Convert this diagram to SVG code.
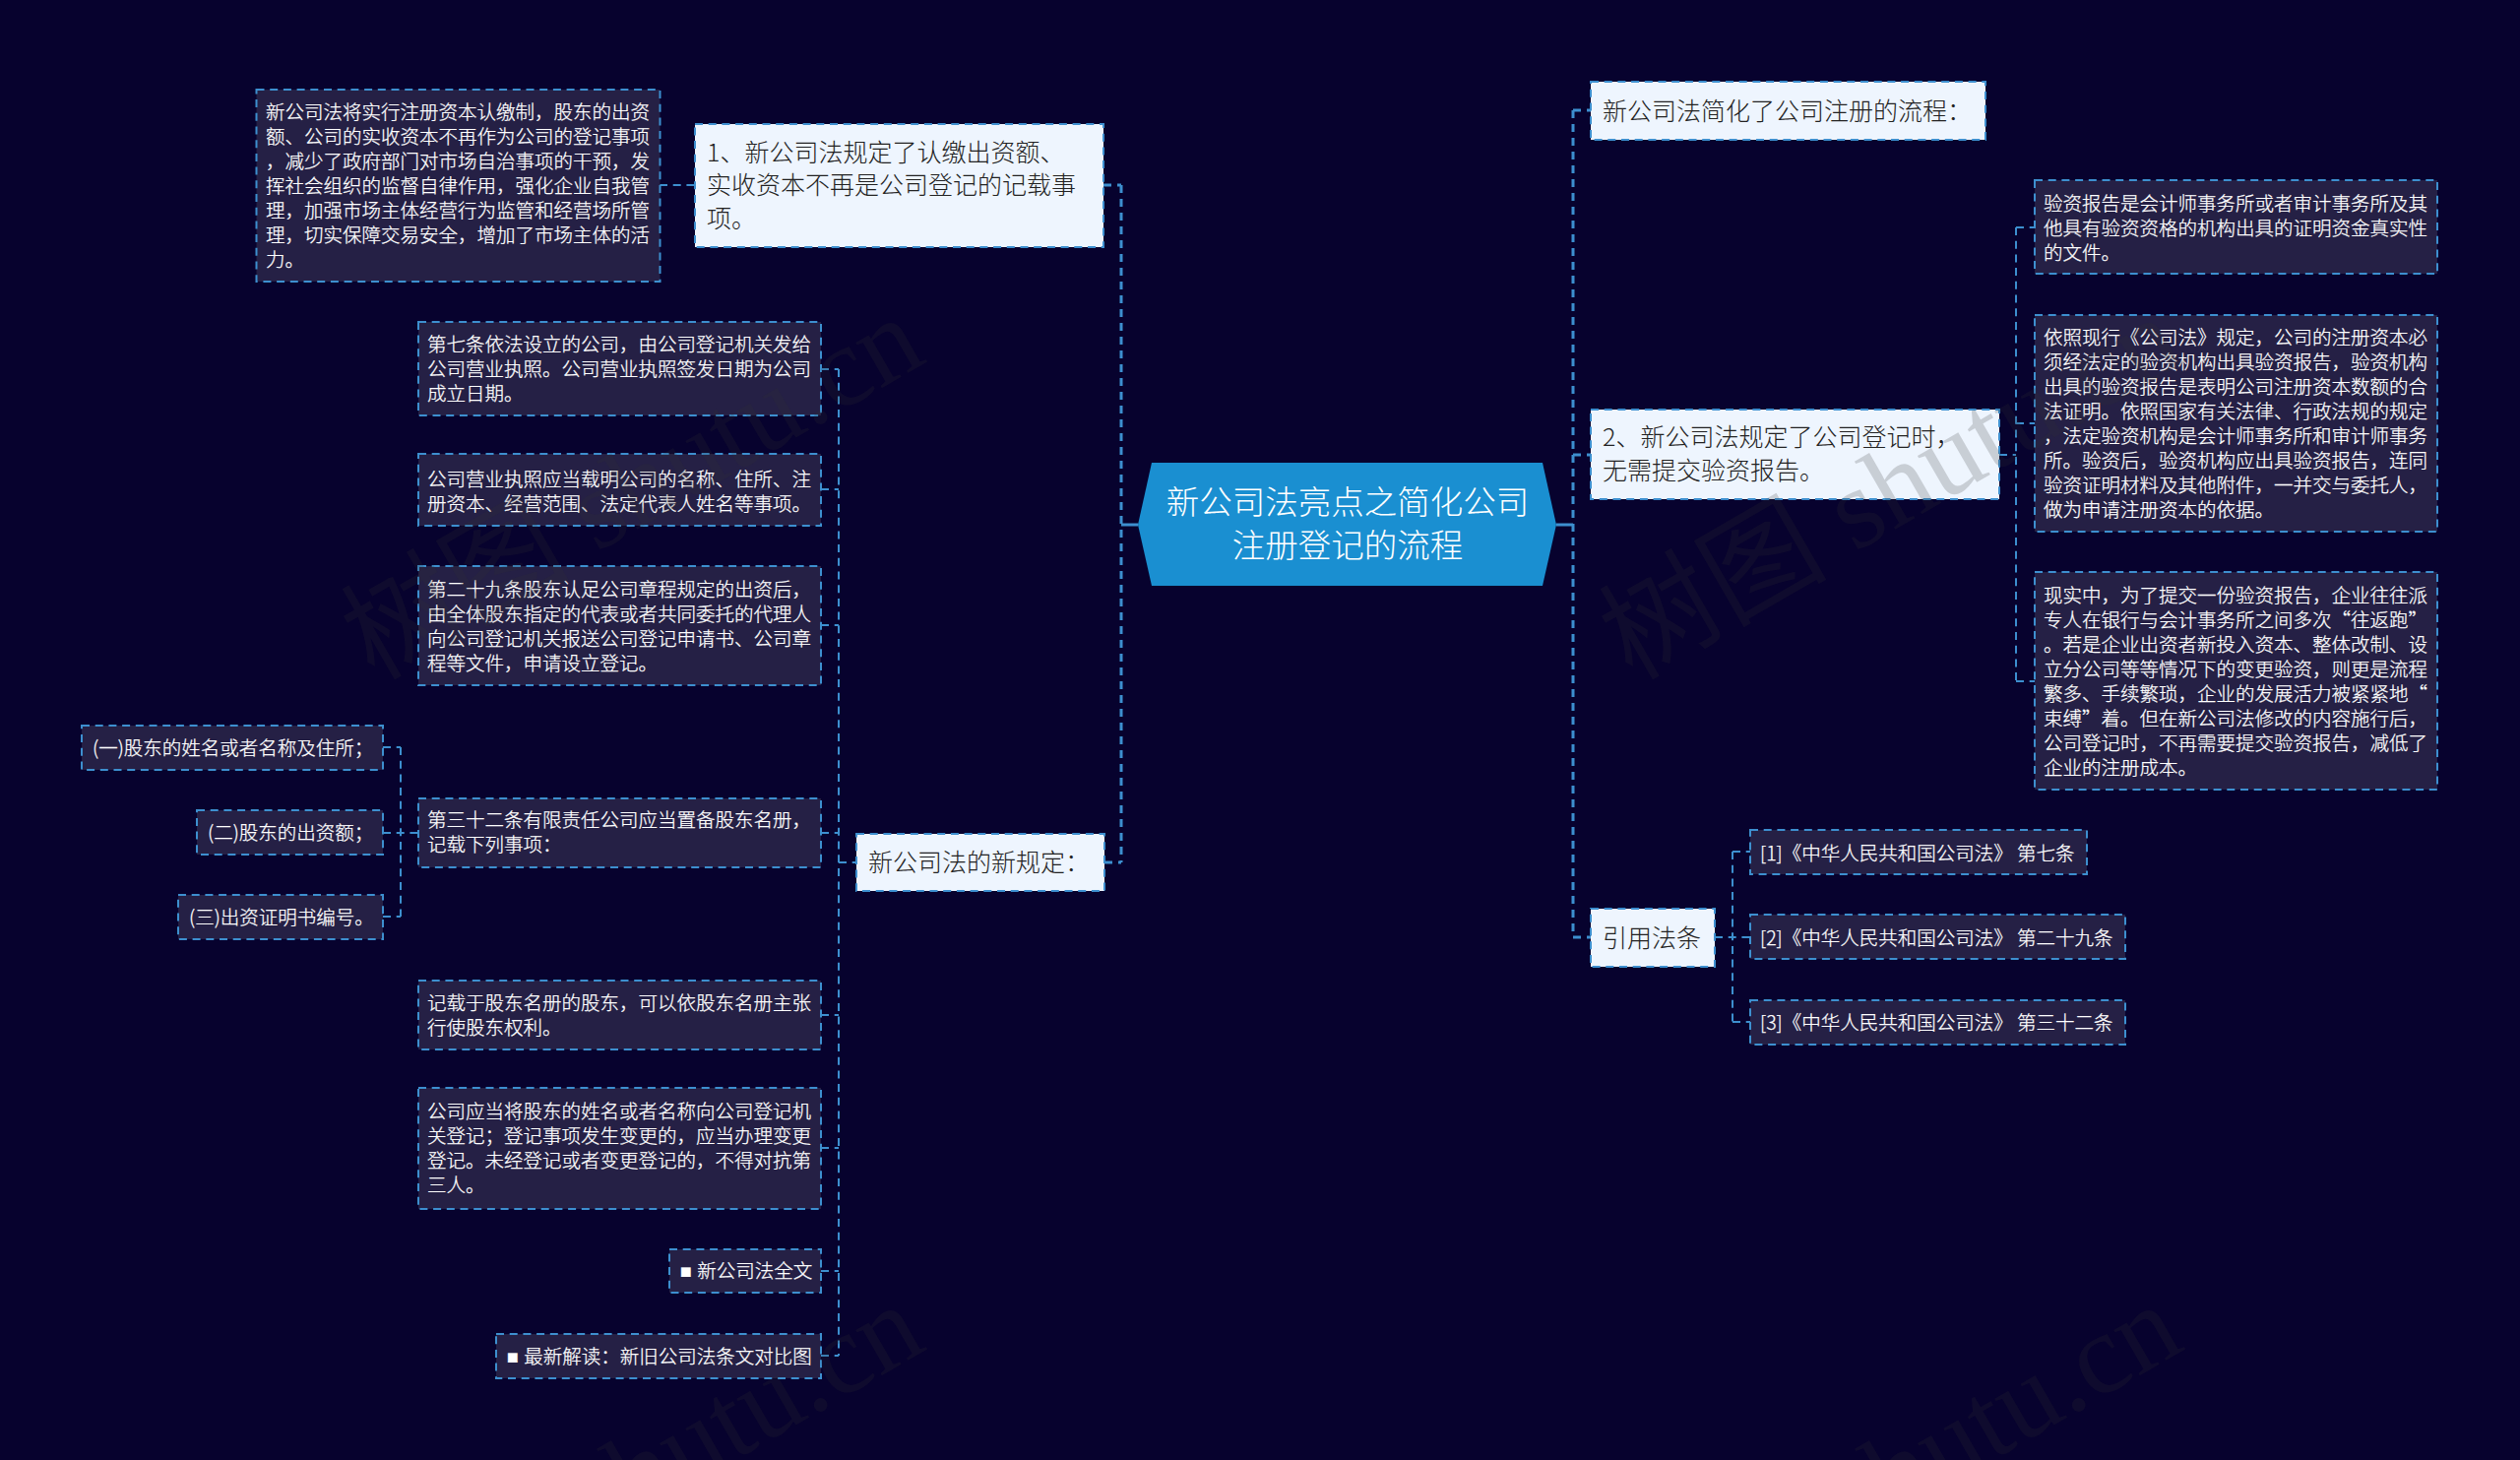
<svg xmlns="http://www.w3.org/2000/svg" width="2560" height="1483" viewBox="0 0 2560 1483">
<style>
text{font-family:"Noto Sans CJK SC","Microsoft YaHei",sans-serif;font-weight:300}
.c{fill:#252045;stroke:#3d8fcf;stroke-width:2;stroke-dasharray:8 5.700}
.l{fill:#eef5fe;stroke:#3d8fcf;stroke-width:2;stroke-dasharray:8 5.700}
.s{font-size:19.500px;fill:#fff;stroke:#fff;stroke-width:.25}
.b{font-size:25px;fill:#222}
.m{fill:none;stroke:#3d8fcf;stroke-width:3;stroke-dasharray:8 6}
.t{fill:none;stroke:#3d8fcf;stroke-width:2;stroke-dasharray:8 5.700}
.q{font-family:"Liberation Sans",sans-serif}
.w{font-family:"Liberation Serif","Noto Sans CJK SC",serif;font-size:116px;fill:#333;fill-opacity:.2;font-weight:400}
</style>
<rect width="2560" height="1483" fill="#07022e"/>
<g id="connectors">
<path class="m" d="M1139 188V876M1121 188H1139M1122 876H1139"/>
<path class="m" d="M1598 112V952M1598 112H1616M1598 462H1616M1598 952H1616"/>
<path d="M1156 533H1139M1581 533H1598" fill="none" stroke="#3d8fcf" stroke-width="3"/>
<path class="t" d="M670 188H706"/>
<path class="t" d="M852 375V1377M834 375H852M834 497H852M834 635H852M834 846H852M834 1031H852M834 1166H852M834 1291H852M834 1377H852M852 876H870"/>
<path class="t" d="M407 759V931M389 759H407M389 846H425M389 931H407"/>
<path class="t" d="M2048 231V692M2048 231H2067M2048 430H2067M2048 692H2067M2031 462H2048"/>
<path class="t" d="M1760 865V1038M1760 865H1778M1742 952H1778M1760 1038H1778"/>
</g>
<g id="n-root"><path d="M1170 470H1567L1581 533L1567 595H1170L1156 533Z" fill="#1a8fd1"/>
<text x="1369" y="522" font-size="33.500" fill="#fff" text-anchor="middle">新公司法亮点之简化公司</text>
<text x="1369" y="566" font-size="33.500" fill="#fff" text-anchor="middle">注册登记的流程</text></g>
<g id="n-l1"><rect class="l" x="706" y="126" width="415" height="125"/>
<text class="b" x="718" y="164">1、新公司法规定了认缴出资额、</text>
<text class="b" x="718" y="197">实收资本不再是公司登记的记载事</text>
<text class="b" x="718" y="231">项。</text></g>
<g id="n-l1a"><rect class="c" x="260.500" y="91" width="410" height="195"/>
<text class="s" x="270" y="121">新公司法将实行注册资本认缴制，股东的出资</text>
<text class="s" x="270" y="146">额、公司的实收资本不再作为公司的登记事项</text>
<text class="s" x="270" y="171">，减少了政府部门对市场自治事项的干预，发</text>
<text class="s" x="270" y="196">挥社会组织的监督自律作用，强化企业自我管</text>
<text class="s" x="270" y="221">理，加强市场主体经营行为监管和经营场所管</text>
<text class="s" x="270" y="246">理，切实保障交易安全，增加了市场主体的活</text>
<text class="s" x="270" y="271">力。</text></g>
<g id="n-l2"><rect class="l" x="870" y="847" width="252" height="58"/>
<text class="b" x="882" y="885">新公司法的新规定：</text></g>
<g id="n-a"><rect class="c" x="425" y="327" width="409" height="95"/>
<text class="s" x="434" y="357">第七条依法设立的公司，由公司登记机关发给</text>
<text class="s" x="434" y="382">公司营业执照。公司营业执照签发日期为公司</text>
<text class="s" x="434" y="407">成立日期。</text></g>
<g id="n-b"><rect class="c" x="425" y="461" width="409" height="73"/>
<text class="s" x="434" y="494">公司营业执照应当载明公司的名称、住所、注</text>
<text class="s" x="434" y="519">册资本、经营范围、法定代表人姓名等事项。</text></g>
<g id="n-c"><rect class="c" x="425" y="575" width="409" height="121"/>
<text class="s" x="434" y="606">第二十九条股东认足公司章程规定的出资后，</text>
<text class="s" x="434" y="631">由全体股东指定的代表或者共同委托的代理人</text>
<text class="s" x="434" y="656">向公司登记机关报送公司登记申请书、公司章</text>
<text class="s" x="434" y="681">程等文件，申请设立登记。</text></g>
<g id="n-d"><rect class="c" x="425" y="811" width="409" height="70"/>
<text class="s" x="434" y="840">第三十二条有限责任公司应当置备股东名册，</text>
<text class="s" x="434" y="865">记载下列事项：</text></g>
<g id="n-d1"><rect class="c" x="83" y="737" width="306" height="45"/>
<text class="s" x="94" y="767">(一)股东的姓名或者名称及住所；</text></g>
<g id="n-d2"><rect class="c" x="200" y="823" width="189" height="45"/>
<text class="s" x="211" y="853">(二)股东的出资额；</text></g>
<g id="n-d3"><rect class="c" x="181" y="909" width="208" height="45"/>
<text class="s" x="192" y="939">(三)出资证明书编号。</text></g>
<g id="n-e"><rect class="c" x="425" y="996" width="409" height="70"/>
<text class="s" x="434" y="1026">记载于股东名册的股东，可以依股东名册主张</text>
<text class="s" x="434" y="1051">行使股东权利。</text></g>
<g id="n-f"><rect class="c" x="425" y="1105" width="409" height="123"/>
<text class="s" x="434" y="1136">公司应当将股东的姓名或者名称向公司登记机</text>
<text class="s" x="434" y="1161">关登记；登记事项发生变更的，应当办理变更</text>
<text class="s" x="434" y="1186">登记。未经登记或者变更登记的，不得对抗第</text>
<text class="s" x="434" y="1211">三人。</text></g>
<g id="n-g"><rect class="c" x="680" y="1269" width="154" height="44"/>
<text class="s" x="691" y="1298"><tspan class="q">■ </tspan>新公司法全文</text></g>
<g id="n-h"><rect class="c" x="504" y="1355" width="330" height="45"/>
<text class="s" x="515" y="1385"><tspan class="q">■ </tspan>最新解读：新旧公司法条文对比图</text></g>
<g id="n-r1"><rect class="l" x="1616" y="83" width="401" height="59"/>
<text class="b" x="1628" y="122">新公司法简化了公司注册的流程：</text></g>
<g id="n-r2"><rect class="l" x="1616" y="416" width="415" height="91"/>
<text class="b" x="1628" y="453">2、新公司法规定了公司登记时，</text>
<text class="b" x="1628" y="487">无需提交验资报告。</text></g>
<g id="n-r2a"><rect class="c" x="2067" y="183" width="409" height="95"/>
<text class="s" x="2076" y="214">验资报告是会计师事务所或者审计事务所及其</text>
<text class="s" x="2076" y="239">他具有验资资格的机构出具的证明资金真实性</text>
<text class="s" x="2076" y="264">的文件。</text></g>
<g id="n-r2b"><rect class="c" x="2067" y="320" width="409" height="220"/>
<text class="s" x="2076" y="350">依照现行《公司法》规定，公司的注册资本必</text>
<text class="s" x="2076" y="375">须经法定的验资机构出具验资报告，验资机构</text>
<text class="s" x="2076" y="400">出具的验资报告是表明公司注册资本数额的合</text>
<text class="s" x="2076" y="425">法证明。依照国家有关法律、行政法规的规定</text>
<text class="s" x="2076" y="450">，法定验资机构是会计师事务所和审计师事务</text>
<text class="s" x="2076" y="475">所。验资后，验资机构应出具验资报告，连同</text>
<text class="s" x="2076" y="500">验资证明材料及其他附件，一并交与委托人，</text>
<text class="s" x="2076" y="525">做为申请注册资本的依据。</text></g>
<g id="n-r2c"><rect class="c" x="2067" y="581" width="409" height="221"/>
<text class="s" x="2076" y="612">现实中，为了提交一份验资报告，企业往往派</text>
<text class="s" x="2076" y="637">专人在银行与会计事务所之间多次“往返跑”</text>
<text class="s" x="2076" y="662">。若是企业出资者新投入资本、整体改制、设</text>
<text class="s" x="2076" y="687">立分公司等等情况下的变更验资，则更是流程</text>
<text class="s" x="2076" y="712">繁多、手续繁琐，企业的发展活力被紧紧地“</text>
<text class="s" x="2076" y="737">束缚”着。但在新公司法修改的内容施行后，</text>
<text class="s" x="2076" y="762">公司登记时，不再需要提交验资报告，减低了</text>
<text class="s" x="2076" y="787">企业的注册成本。</text></g>
<g id="n-r3"><rect class="l" x="1616" y="923" width="126" height="59"/>
<text class="b" x="1628" y="962">引用法条</text></g>
<g id="n-r3a"><rect class="c" x="1778" y="843" width="342" height="45"/>
<text class="s" x="1788" y="874">[1]《中华人民共和国公司法》 第七条</text></g>
<g id="n-r3b"><rect class="c" x="1778" y="929" width="381" height="45"/>
<text class="s" x="1788" y="960">[2]《中华人民共和国公司法》 第二十九条</text></g>
<g id="n-r3c"><rect class="c" x="1778" y="1016" width="381" height="45"/>
<text class="s" x="1788" y="1046">[3]《中华人民共和国公司法》 第三十二条</text></g>
<g id="watermarks">
<text class="w" transform="translate(380 692) rotate(-30)">树图 shutu.cn</text>
<text class="w" transform="translate(1658 692) rotate(-30)">树图 shutu.cn</text>
<text class="w" transform="translate(380 1695) rotate(-30)">树图 shutu.cn</text>
<text class="w" transform="translate(1658 1695) rotate(-30)">树图 shutu.cn</text>
</g>
</svg>
